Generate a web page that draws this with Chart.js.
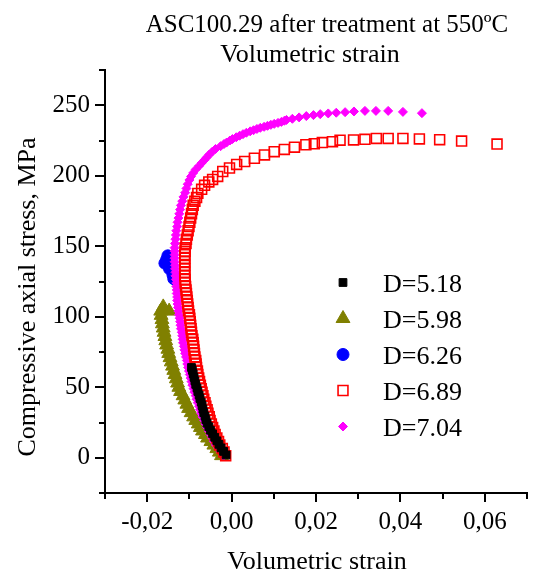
<!DOCTYPE html>
<html>
<head>
<meta charset="utf-8">
<title>ASC100.29 volumetric strain</title>
<script src="https://cdn.jsdelivr.net/npm/chart.js@4.4.1/dist/chart.umd.min.js"></script>
<style>
    body { margin: 0; background: #fff; }
    canvas { display: block; }
</style>
</head>
<body>
<canvas id="chart" width="536" height="575"></canvas>
<script>
var seriesNames = ['D=5.18', 'D=5.98', 'D=6.26', 'D=6.89', 'D=7.04'];
var titleLines = ['ASC100.29 after treatment at 550ºC', 'Volumetric strain'];
var xTitle = 'Volumetric strain';
var yTitle = 'Compressive axial stress, MPa';
var xTickValues = [-0.02, 0, 0.02, 0.04, 0.06];
var yTickValues = [0, 50, 100, 150, 200, 250];

// D=5.18
var d518Strain = [-0.0013, -0.0019, -0.0025, -0.0030, -0.0035, -0.0040, -0.0045, -0.0050, -0.0054, -0.0058,
    -0.0061, -0.0063, -0.0066, -0.0068, -0.0070, -0.0072, -0.0075, -0.0077, -0.0080, -0.0082,
    -0.0085, -0.0087, -0.0089, -0.0091, -0.0093, -0.0095];
var d518Stress = [2, 4.5, 7, 9.5, 12, 14.5, 17, 19.5, 22, 24.5,
    27, 29.5, 32, 34.5, 37, 39.5, 42, 44.5, 47, 49.5,
    52, 54.5, 57, 59.5, 62, 64];

// D=5.98
var d598Strain = [-0.0024, -0.0029, -0.0035, -0.0042, -0.0049, -0.0057, -0.0062, -0.0069, -0.0074, -0.0079,
    -0.0085, -0.0090, -0.0096, -0.0102, -0.0106, -0.0111, -0.0115, -0.0121, -0.0125, -0.0128,
    -0.0131, -0.0134, -0.0137, -0.0140, -0.0143, -0.0146, -0.0149, -0.0151, -0.0154, -0.0156,
    -0.0158, -0.0160, -0.0162, -0.0164, -0.0165, -0.0167, -0.0168, -0.0162, -0.0148];
var d598Stress = [1.5, 4, 6.5, 9, 11.5, 14, 16.5, 19, 21.5, 24,
    26.5, 29, 32, 35, 38, 41, 44, 47, 50, 53,
    56, 59, 62, 65, 68, 71, 74, 77, 80, 83,
    86, 89, 92, 95, 98, 101, 104, 107, 104];

// D=6.26
var d626Strain = [-0.0137, -0.0139, -0.0147, -0.0158, -0.0151, -0.0154, -0.0151];
var d626Stress = [127.0, 129.8, 134.0, 138.0, 137.5, 140.4, 143.2];

// D=6.89
var d689Strain = [-0.0014, -0.0018, -0.0022, -0.0028, -0.0031, -0.0035, -0.0039, -0.0042, -0.0045, -0.0048,
    -0.0051, -0.0053, -0.0056, -0.0058, -0.0061, -0.0063, -0.0066, -0.0068, -0.0070, -0.0072,
    -0.0074, -0.0076, -0.0078, -0.0080, -0.0081, -0.0083, -0.0084, -0.0085, -0.0087, -0.0088,
    -0.0089, -0.0090, -0.0091, -0.0092, -0.0094, -0.0095, -0.0096, -0.0097, -0.0098, -0.0099,
    -0.0100, -0.0102, -0.0103, -0.0104, -0.0105, -0.0106, -0.0107, -0.0108, -0.0109, -0.0110,
    -0.0110, -0.0111, -0.0111, -0.0111, -0.0111, -0.0111, -0.0111, -0.0111, -0.0110, -0.0110,
    -0.0108, -0.0107, -0.0105, -0.0103, -0.0101, -0.0099, -0.0097, -0.0095, -0.0093, -0.0091,
    -0.0087, -0.0083, -0.0080, -0.0071, -0.0064, -0.0054, -0.0045, -0.0033, -0.0021, -0.0005,
    0.0012, 0.0031, 0.0054, 0.0078, 0.0101, 0.0125, 0.0149, 0.0176, 0.0196, 0.0215,
    0.0239, 0.0257, 0.0289, 0.0316, 0.0343, 0.0371, 0.0406, 0.0445, 0.0493, 0.0545,
    0.0629];
var d689Stress = [1.5, 4, 6.5, 9, 11.5, 14, 16.5, 19, 21.5, 24,
    26.5, 29, 31.5, 34, 36.5, 39, 41.5, 44, 46.5, 49,
    51.5, 54, 56.5, 59, 61.5, 64, 66.5, 69, 71.5, 74,
    76.5, 79, 81.5, 84, 86.5, 89, 91.5, 94, 96.5, 99,
    101.5, 104, 106.5, 109, 111.5, 114, 116.5, 119, 121.5, 124,
    126.5, 129, 131.5, 134, 136.5, 139, 141.5, 144, 146.5, 149,
    152, 155, 158, 161, 164, 167, 170, 173, 176, 179,
    182, 184.5, 187.5, 190.4, 193.2, 195.6, 197.4, 199.5, 203.0, 205.5,
    208.0, 210.1, 212.4, 214.8, 217.1, 218.7, 220.3, 222.0, 222.7, 223.5,
    224.2, 225.2, 225.4, 225.8, 226.5, 226.5, 226.5, 226.1, 225.6, 224.6,
    222.5];

// D=7.04
var d704Strain = [-0.0019, -0.0025, -0.0031, -0.0037, -0.0042, -0.0046, -0.0050, -0.0054, -0.0058, -0.0062,
    -0.0065, -0.0069, -0.0072, -0.0075, -0.0077, -0.0080, -0.0083, -0.0085, -0.0088, -0.0090,
    -0.0093, -0.0095, -0.0097, -0.0099, -0.0101, -0.0103, -0.0105, -0.0106, -0.0108, -0.0110,
    -0.0112, -0.0113, -0.0115, -0.0116, -0.0117, -0.0118, -0.0120, -0.0121, -0.0122, -0.0123,
    -0.0125, -0.0126, -0.0127, -0.0128, -0.0129, -0.0129, -0.0130, -0.0130, -0.0131, -0.0131,
    -0.0132, -0.0133, -0.0133, -0.0134, -0.0134, -0.0135, -0.0135, -0.0135, -0.0135, -0.0135,
    -0.0134, -0.0133, -0.0132, -0.0131, -0.0129, -0.0128, -0.0126, -0.0124, -0.0122, -0.0120,
    -0.0117, -0.0114, -0.0110, -0.0107, -0.0104, -0.0100, -0.0096, -0.0091, -0.0085, -0.0077,
    -0.0071, -0.0065, -0.0059, -0.0053, -0.0046, -0.0038, -0.0026, -0.0018, -0.0012, -0.0004,
    0.0002, 0.0011, 0.0019, 0.0027, 0.0035, 0.0044, 0.0052, 0.0060, 0.0068, 0.0077,
    0.0085, 0.0093, 0.0101, 0.0110, 0.0118, 0.0125, 0.0130, 0.0144, 0.0160, 0.0177,
    0.0194, 0.0210, 0.0229, 0.0248, 0.0269, 0.0290, 0.0316, 0.0342, 0.0371, 0.0406,
    0.0451];
var d704Stress = [1.5, 4, 6.5, 9, 11.5, 14, 16.5, 19, 21.5, 24,
    26.5, 29, 31.5, 34, 36.5, 39, 41.5, 44, 46.5, 49,
    51.5, 54, 56.5, 59, 61.5, 64, 66.5, 69, 71.5, 74,
    76.5, 79, 81.5, 84, 86.5, 89, 91.5, 94, 96.5, 99,
    101.5, 104, 106.5, 109, 111.5, 114, 116.5, 119, 121.5, 124,
    126.5, 129, 131.5, 134, 136.5, 139, 141.5, 144, 146.5, 149,
    152, 155, 158, 161, 164, 167, 170, 173, 176, 179,
    182, 185, 188, 191, 194, 197, 199.5, 202, 204.5, 207,
    209, 211, 213, 215, 217, 219, 221, 222.5, 223.5, 225,
    226, 227.3, 228.4, 229.5, 230.5, 231.5, 232.3, 233.2, 234.0, 234.7,
    235.4, 236.1, 236.8, 237.5, 238.2, 239.0, 239.6, 240.4, 241.4, 242.3,
    243.0, 243.7, 244.2, 244.7, 245.1, 245.6, 246.0, 246.0, 246.0, 245.3,
    244.4];

var FONT = "'Liberation Serif', 'Times New Roman', serif";

function toPoints(xs, ys) {
    return xs.map(function (x, i) {
        return { x: x, y: ys[i] };
    });
}

function isMajor(list, value) {
    return list.some(function (v) { return Math.abs(v - value) < 1e-6; });
}

function drawMarker(ctx, style, x, y, r, fill, stroke, lw) {
    ctx.beginPath();
    if (style === 'circle') {
        ctx.arc(x, y, r, 0, Math.PI * 2);
    } else if (style === 'rect') {
        var s = r * Math.SQRT1_2;
        ctx.rect(x - s, y - s, 2 * s, 2 * s);
    } else if (style === 'triangle') {
        ctx.moveTo(x, y - r);
        ctx.lineTo(x + r * 0.866, y + r / 2);
        ctx.lineTo(x - r * 0.866, y + r / 2);
        ctx.closePath();
    } else if (style === 'rectRot') {
        ctx.moveTo(x, y - r);
        ctx.lineTo(x + r, y);
        ctx.lineTo(x, y + r);
        ctx.lineTo(x - r, y);
        ctx.closePath();
    }
    ctx.fillStyle = fill;
    ctx.fill();
    ctx.lineWidth = lw;
    ctx.strokeStyle = stroke;
    ctx.stroke();
}

// tick marks (major + minor), titles and the legend inside the plot
var decorations = {
    id: 'decorations',
    afterDraw: function (chart) {
        var ctx = chart.ctx,
            xs = chart.scales.x,
            ys = chart.scales.y,
            area = chart.chartArea;

        ctx.save();
        ctx.strokeStyle = '#000';
        ctx.lineWidth = 2;
        ctx.beginPath();
        xs.ticks.forEach(function (t) {
            var px = Math.round(xs.getPixelForValue(t.value));
            ctx.moveTo(px, area.bottom);
            ctx.lineTo(px, area.bottom + (isMajor(xTickValues, t.value) ? 9 : 6));
        });
        ys.ticks.forEach(function (t) {
            var py = Math.round(ys.getPixelForValue(t.value));
            ctx.moveTo(area.left, py);
            ctx.lineTo(area.left - (isMajor(yTickValues, t.value) ? 10 : 6), py);
        });
        ctx.stroke();

        ctx.fillStyle = '#000';
        ctx.textBaseline = 'alphabetic';
        ctx.textAlign = 'center';
        ctx.font = '25px ' + FONT;
        ctx.fillText(titleLines[0], 327, 32);
        ctx.font = '26px ' + FONT;
        ctx.fillText(titleLines[1], 310, 62);
        ctx.fillText(xTitle, 317, 569);

        ctx.save();
        ctx.translate(35, 297);
        ctx.rotate(-Math.PI / 2);
        ctx.fillText(yTitle, 0, 0);
        ctx.restore();

        // legend
        ctx.font = '26px ' + FONT;
        ctx.textAlign = 'left';
        chart.data.datasets.forEach(function (ds, i) {
            var rowY = 282.5 + i * 36;
            drawMarker(ctx, ds.pointStyle, 343, rowY, ds.pointRadius,
                ds.backgroundColor, ds.borderColor, ds.borderWidth);
            ctx.fillStyle = '#000';
            ctx.fillText(ds.label, 383, rowY + 9);
        });
        ctx.restore();
    }
};

var ctx = document.getElementById('chart').getContext('2d');

new Chart(ctx, {
    type: 'scatter',
    data: {
        datasets: [
            {
                label: seriesNames[0],
                data: toPoints(d518Strain, d518Stress),
                pointStyle: 'rect',
                pointRadius: 5.5,
                backgroundColor: '#000000',
                borderColor: '#000000',
                borderWidth: 1,
                order: 0
            },
            {
                label: seriesNames[1],
                data: toPoints(d598Strain, d598Stress),
                pointStyle: 'triangle',
                pointRadius: 8,
                backgroundColor: '#808000',
                borderColor: '#808000',
                borderWidth: 1,
                order: 4
            },
            {
                label: seriesNames[2],
                data: toPoints(d626Strain, d626Stress),
                pointStyle: 'circle',
                pointRadius: 6,
                backgroundColor: '#0000ff',
                borderColor: '#0000ff',
                borderWidth: 1,
                order: 3
            },
            {
                label: seriesNames[3],
                data: toPoints(d689Strain, d689Stress),
                pointStyle: 'rect',
                pointRadius: 7,
                backgroundColor: 'rgba(255,255,255,0)',
                borderColor: '#ff0000',
                borderWidth: 1.6,
                order: 1
            },
            {
                label: seriesNames[4],
                data: toPoints(d704Strain, d704Stress),
                pointStyle: 'rectRot',
                pointRadius: 4.5,
                backgroundColor: '#ff00ff',
                borderColor: '#ff00ff',
                borderWidth: 1,
                order: 2
            }
        ]
    },
    options: {
        responsive: false,
        animation: false,
        devicePixelRatio: 1,
        events: [],
        layout: { padding: { top: 70, right: 8, left: 0, bottom: 0 } },
        plugins: {
            legend: { display: false },
            title: { display: false },
            tooltip: { enabled: false }
        },
        scales: {
            x: {
                type: 'linear',
                min: -0.03,
                max: 0.07,
                grid: { display: false, drawTicks: false },
                border: { display: true, color: '#000', width: 2 },
                ticks: {
                    stepSize: 0.01,
                    autoSkip: false,
                    maxRotation: 0,
                    minRotation: 0,
                    padding: 14,
                    color: '#000',
                    font: { family: FONT, size: 25 },
                    callback: function (value) {
                        return isMajor(xTickValues, value) ? value.toFixed(2).replace('.', ',') : '';
                    }
                },
                afterFit: function (scale) {
                    scale.height = 82;
                    scale.paddingLeft = 0;
                    scale.paddingRight = 0;
                }
            },
            y: {
                type: 'linear',
                min: -25,
                max: 275,
                grid: { display: false, drawTicks: false },
                border: { display: true, color: '#000', width: 2 },
                ticks: {
                    stepSize: 25,
                    autoSkip: false,
                    padding: 15,
                    color: '#000',
                    font: { family: FONT, size: 25 },
                    callback: function (value) {
                        return isMajor(yTickValues, value) ? String(value) : '';
                    }
                },
                afterFit: function (scale) {
                    scale.width = 105;
                    scale.paddingTop = 0;
                    scale.paddingBottom = 0;
                }
            }
        }
    },
    plugins: [decorations]
});
</script>
</body>
</html>
